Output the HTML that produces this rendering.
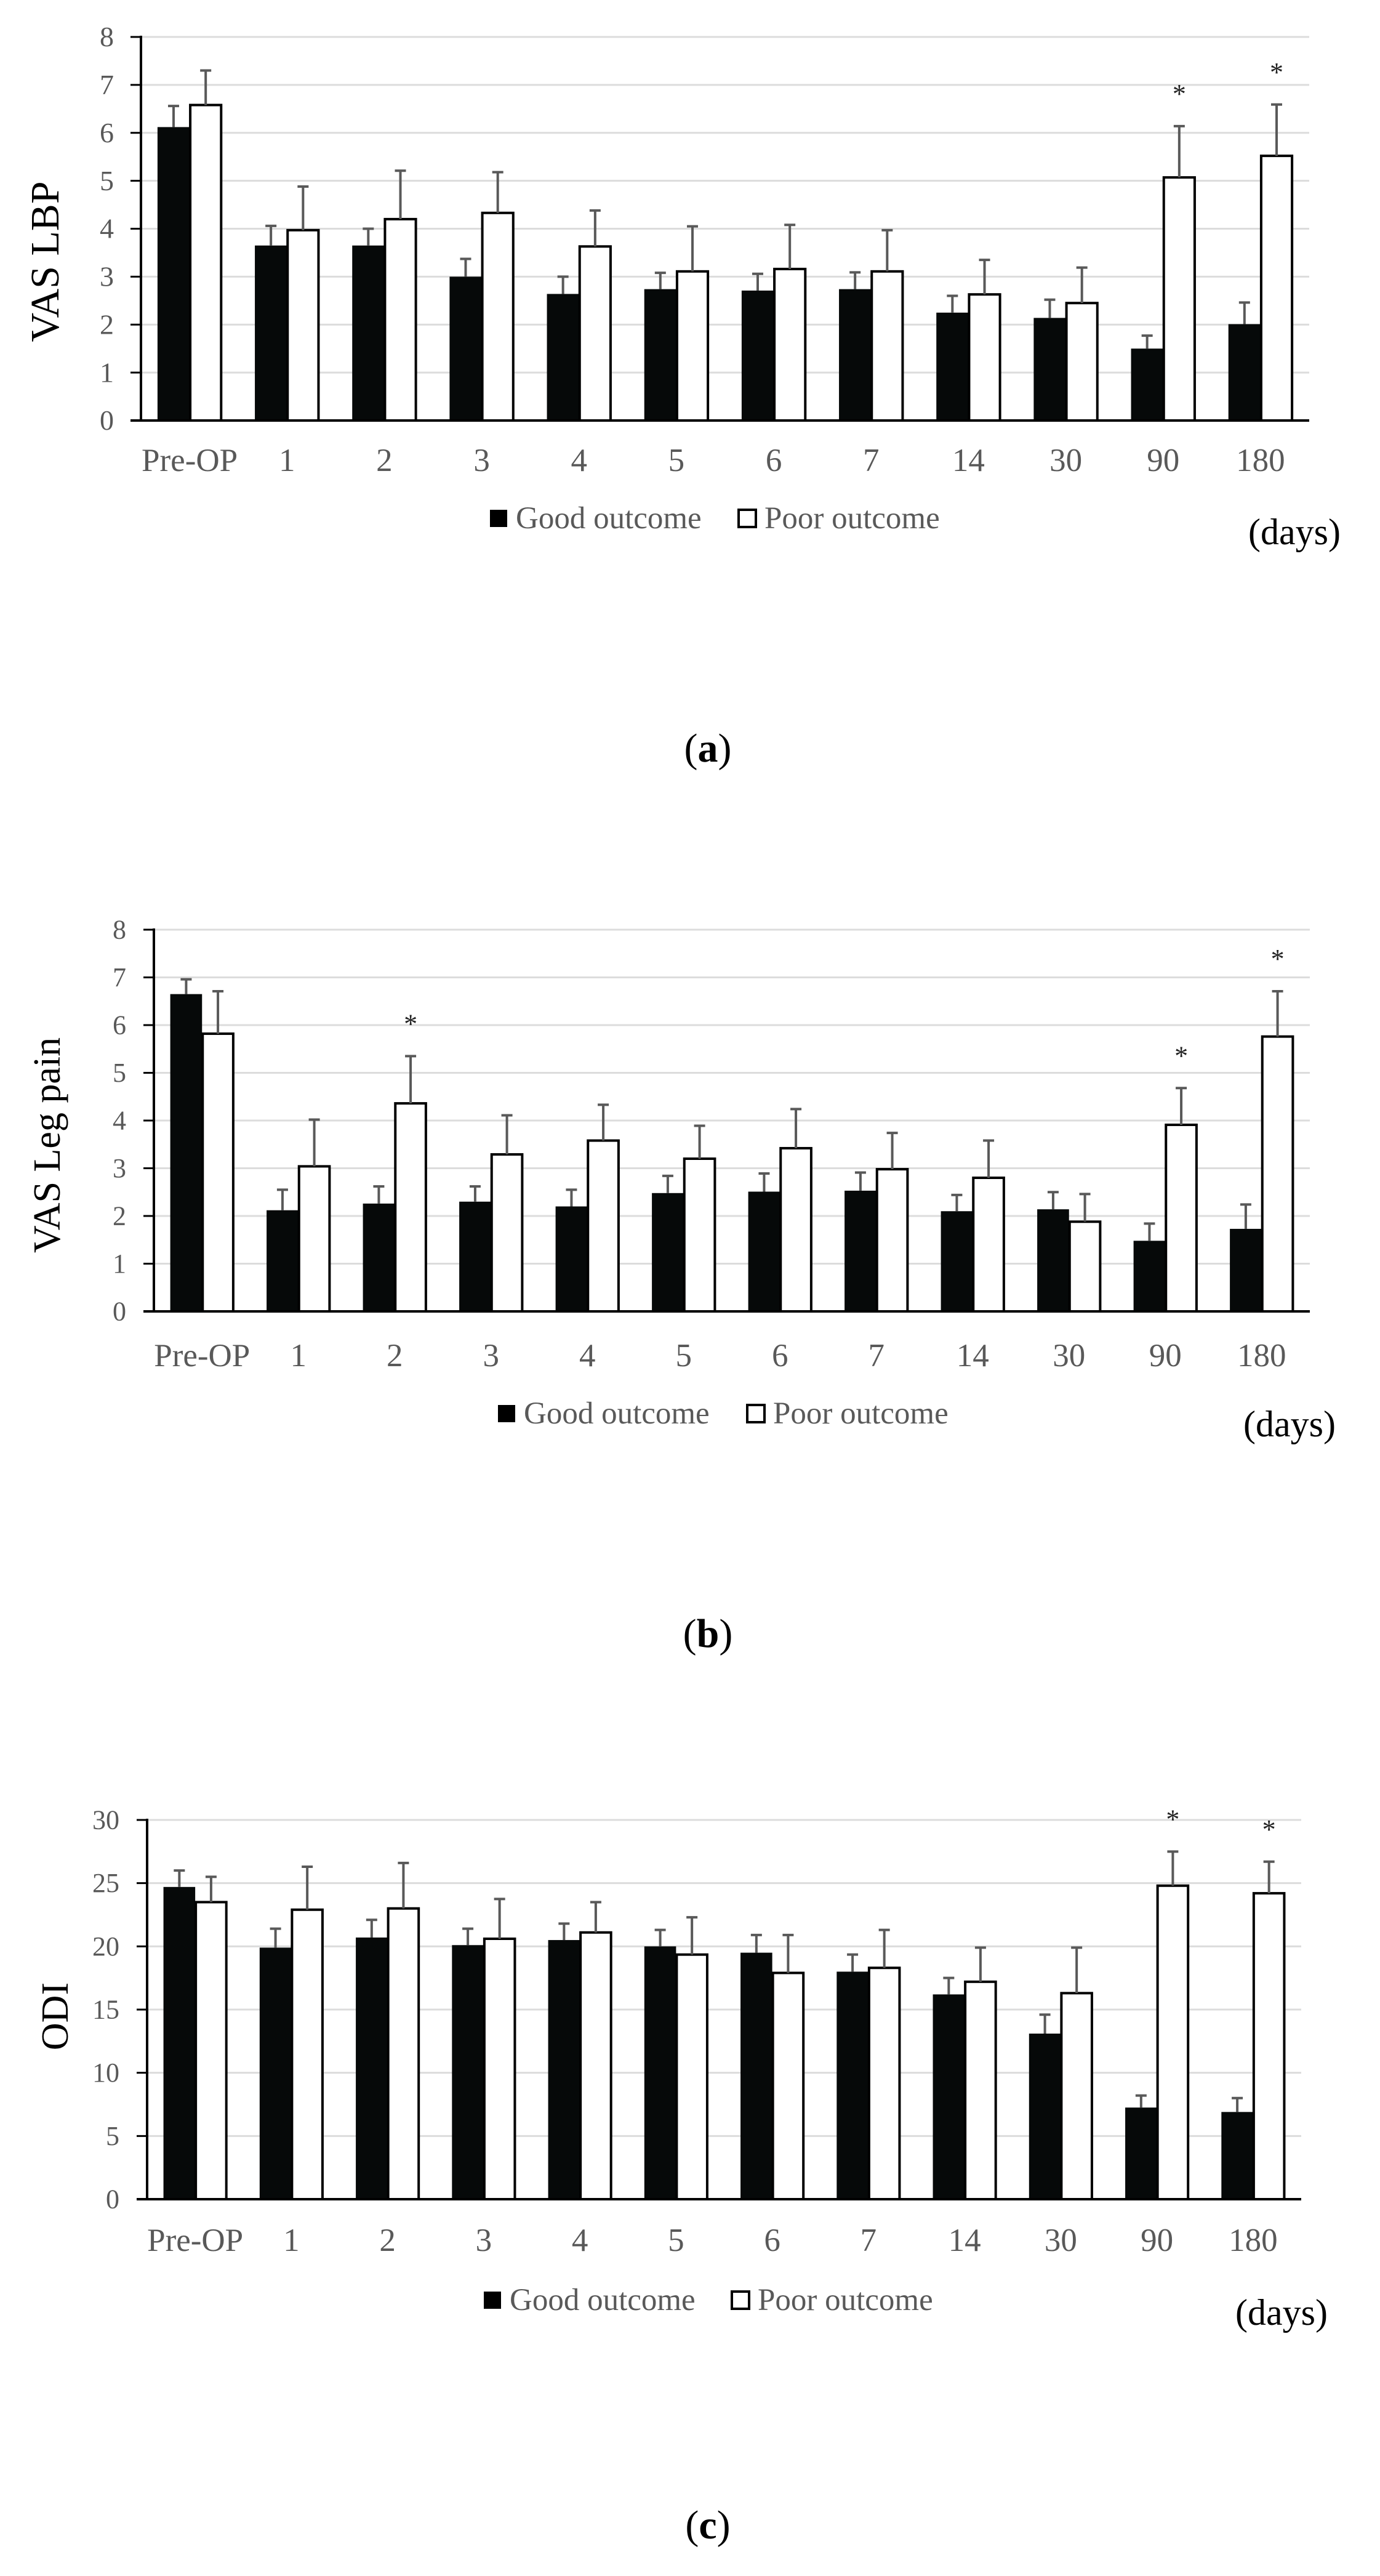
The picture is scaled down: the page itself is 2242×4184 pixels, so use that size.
<!DOCTYPE html>
<html><head><meta charset="utf-8"><title>VAS and ODI by outcome group</title>
<style>
html,body{margin:0;padding:0;background:#fff;}
svg{display:block;font-family:"Liberation Serif",serif;}
</style></head>
<body>
<svg id="fig" width="2242" height="4184" viewBox="0 0 2242 4184" xmlns="http://www.w3.org/2000/svg"></svg>
<script>
const categories = ["Pre-OP","1","2","3","4","5","6","7","14","30","90","180"];

const lbpGood = [6.12,3.65,3.65,3.0,2.64,2.74,2.71,2.74,2.25,2.14,1.5,2.01];
const lbpGoodErr = [6.56,4.06,4.0,3.37,3.0,3.08,3.06,3.09,2.6,2.52,1.77,2.46];
const lbpPoor = [6.58,3.97,4.2,4.33,3.63,3.11,3.16,3.11,2.63,2.45,5.07,5.52];
const lbpPoorErr = [7.3,4.88,5.21,5.18,4.38,4.05,4.08,3.97,3.35,3.19,6.14,6.59];
const lbpStars = [10,11];
const lbpTicks = [0,1,2,3,4,5,6,7,8];

const legGood = [6.65,2.12,2.26,2.3,2.2,2.48,2.51,2.53,2.1,2.14,1.48,1.73];
const legGoodErr = [6.96,2.55,2.62,2.62,2.55,2.84,2.89,2.91,2.44,2.5,1.84,2.24];
const legPoor = [5.82,3.04,4.36,3.29,3.58,3.2,3.42,2.98,2.8,1.88,3.91,5.76];
const legPoorErr = [6.71,4.02,5.35,4.11,4.33,3.89,4.24,3.74,3.58,2.46,4.68,6.71];
const legStars = [2,10,11];
const legTicks = [0,1,2,3,4,5,6,7,8];

const odiGood = [24.7,19.9,20.7,20.1,20.5,20.0,19.5,18.0,16.2,13.1,7.25,6.9];
const odiGoodErr = [26.0,21.4,22.1,21.4,21.8,21.3,20.9,19.35,17.5,14.6,8.2,8.0];
const odiPoor = [23.5,22.9,23.0,20.6,21.1,19.35,17.9,18.3,17.2,16.3,24.8,24.2];
const odiPoorErr = [25.5,26.3,26.6,23.75,23.5,22.3,20.9,21.3,19.9,19.9,27.5,26.7];
const odiStars = [10,11];
const odiTicks = [0,5,10,15,20,25,30];

const NS = "http://www.w3.org/2000/svg";
const svg = document.getElementById("fig");
function mk(tag, attrs, parent, text){
  const e = document.createElementNS(NS, tag);
  for (const k in attrs) e.setAttribute(k, attrs[k]);
  if (text !== undefined) e.textContent = text;
  (parent || svg).appendChild(e);
  return e;
}

function drawChart(o){
  const g = mk("g", {});
  
  
  const ymax = o.ticks[o.ticks.length-1];
  const yS = v => o.y0 - (v / ymax) * (o.y0 - o.yTop);
  const step = (o.xR - o.xL) / categories.length;
  const xC = i => o.xL + step * (i + 0.5);
  o.ticks.forEach(t => {
    if (t === 0) return;
    const l = mk("line", {x1:o.xL, x2:o.xR, y1:yS(t), y2:yS(t), stroke:"#dcdcdc", "stroke-width":3}, g);
    
    
  });
  o.ticks.forEach(t => {
    const tk = mk("line", {x1:o.xL-17, x2:o.xL, y1:yS(t), y2:yS(t), stroke:"#000", "stroke-width":3}, g);
    
    
    const tl = mk("text", {x:o.tickX, y:yS(t)+o.tickFs*0.33, "text-anchor":"end", "font-size":o.tickFs, fill:"#595959"}, g, String(t));
    
    
  });
  const bw = step * 0.33;
  categories.forEach((c, i) => {
    const cx = xC(i);
    const gb = mk("rect", {x:cx-bw, y:yS(o.good[i]), width:bw, height:o.y0-yS(o.good[i]), fill:"#060909"}, g);
    
    
    const pb = mk("rect", {x:cx+1, y:yS(o.poor[i]), width:bw-2, height:o.y0-yS(o.poor[i]), fill:"#fff", stroke:"#000", "stroke-width":4}, g);
    
    
    [[cx-bw/2, o.good[i], o.goodErr[i], 'good'], [cx+bw/2, o.poor[i], o.poorErr[i], 'poor']].forEach(e => {
      const eg = mk("g", {stroke:"#595959", "stroke-width":4}, g);
      
      
      mk("line", {x1:e[0], x2:e[0], y1:yS(e[1]), y2:yS(e[2])}, eg);
      mk("line", {x1:e[0]-9, x2:e[0]+9, y1:yS(e[2]), y2:yS(e[2])}, eg);
    });
    const cl = mk("text", {x:cx, y:o.catY, "text-anchor":"middle", "font-size":o.catFs, fill:"#595959"}, g, c);
    
    
  });
  o.stars.forEach(i => {
    const s = mk("text", {x:xC(i)+bw/2, y:yS(o.poorErr[i]) - 38, "text-anchor":"middle", "font-size":44, fill:"#222"}, g, "*");
    
    
  });
  const ya = mk("line", {x1:o.xL, x2:o.xL, y1:o.yTop-2, y2:o.y0, stroke:"#000", "stroke-width":4}, g);
  
  
  const xa = mk("line", {x1:o.xL-17, x2:o.xR, y1:o.y0, y2:o.y0, stroke:"#000", "stroke-width":4}, g);
  
  
  const yt = mk("text", {x:0, y:0, transform:"translate(" + o.titleX + "," + o.titleY + ") rotate(-90)", "text-anchor":"middle", "font-size":o.titleFs, fill:"#000"}, g, o.title);
  
  
  const lg = mk("g", {}, g);
  
  
  const sq = 28;
  const e1 = mk("rect", {x:o.legGoodX, y:o.legY-sq-2, width:sq, height:sq, fill:"#000"}, lg);
  
  
  const t1 = mk("text", {x:o.legGoodX+sq+14, y:o.legY, "font-size":o.legFs, fill:"#595959"}, lg, "Good outcome");
  
  
  const e2 = mk("rect", {x:o.legPoorX, y:o.legY-sq-2, width:sq, height:sq, fill:"#fff", stroke:"#000", "stroke-width":4}, lg);
  
  
  const t2 = mk("text", {x:o.legPoorX+sq+14, y:o.legY, "font-size":o.legFs, fill:"#595959"}, lg, "Poor outcome");
  
  
  const d = mk("text", {x:o.daysX, y:o.daysY, "font-size":60, fill:"#000"}, g, "(days)");
  
  
  const p = mk("text", {x:1150, y:o.panelY, "text-anchor":"middle", "font-size":66, fill:"#000"}, g);
  
  
  mk("tspan", {}, p, "(");
  mk("tspan", {"font-weight":"bold"}, p, o.panel);
  mk("tspan", {}, p, ")");
}

drawChart({name:"chart-vas-lbp", xL:229, xR:2127, y0:683, yTop:60, ticks:lbpTicks,
  good:lbpGood, goodErr:lbpGoodErr, poor:lbpPoor, poorErr:lbpPoorErr, stars:lbpStars,
  tickX:185, tickFs:46, catY:765, catFs:53, title:"VAS LBP", titleX:95, titleY:425, titleFs:66,
  legGoodX:796, legPoorX:1200, legY:858, legFs:51, daysX:2028, daysY:884, panel:"a", panelY:1237});

drawChart({name:"chart-vas-leg-pain", xL:250, xR:2128, y0:2130, yTop:1510, ticks:legTicks,
  good:legGood, goodErr:legGoodErr, poor:legPoor, poorErr:legPoorErr, stars:legStars,
  tickX:205, tickFs:44, catY:2219, catFs:53, title:"VAS Leg pain", titleX:97, titleY:1860, titleFs:62,
  legGoodX:809, legPoorX:1214, legY:2312, legFs:51, daysX:2020, daysY:2333, panel:"b", panelY:2675});

drawChart({name:"chart-odi", xL:239, xR:2114, y0:3572, yTop:2956, ticks:odiTicks,
  good:odiGood, goodErr:odiGoodErr, poor:odiPoor, poorErr:odiPoorErr, stars:odiStars,
  tickX:194, tickFs:44, catY:3656, catFs:53, title:"ODI", titleX:110, titleY:3275, titleFs:62,
  legGoodX:786, legPoorX:1189, legY:3752, legFs:51, daysX:2007, daysY:3776, panel:"c", panelY:4123});
</script>
</body></html>
